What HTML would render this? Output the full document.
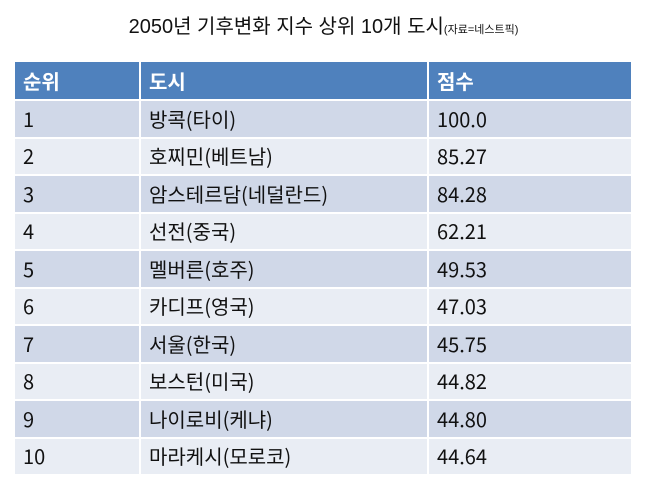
<!DOCTYPE html><html><head><meta charset="utf-8"><style>
body{margin:0;width:647px;height:490px;background:#fff;font-family:"Liberation Sans","Noto Sans CJK KR",sans-serif;overflow:hidden}
.t{position:absolute;top:10px;left:0;width:647px;text-align:center;font-size:20px;color:#111}
.t small{font-size:11px}
table{position:absolute;left:13px;top:62px;border-collapse:collapse;width:620px;table-layout:fixed}
td,th{padding:0 0 0 8px;text-align:left;font-size:20px;line-height:20px;vertical-align:middle;color:#111;border:2px solid #fff;border-top:0;font-family:"Noto Sans CJK KR",sans-serif}
th{background:#4f81bd;color:#fff;height:37px;font-weight:bold}
td{height:35.5px}
tr:nth-child(even) td{background:#d0d8e8}
tr:nth-child(odd) td{background:#e9edf4}
</style></head><body>
<div class="t">2050년 기후변화 지수 상위 10개 도시<small>(자료=네스트픽)</small></div>
<table>
<tr><th style="width:116px">순위</th><th style="width:278px">도시</th><th>점수</th></tr>
<tr><td>1</td><td>방콕(타이)</td><td>100.0</td></tr>
<tr><td>2</td><td>호찌민(베트남)</td><td>85.27</td></tr>
<tr><td>3</td><td>암스테르담(네덜란드)</td><td>84.28</td></tr>
<tr><td>4</td><td>선전(중국)</td><td>62.21</td></tr>
<tr><td>5</td><td>멜버른(호주)</td><td>49.53</td></tr>
<tr><td>6</td><td>카디프(영국)</td><td>47.03</td></tr>
<tr><td>7</td><td>서울(한국)</td><td>45.75</td></tr>
<tr><td>8</td><td>보스턴(미국)</td><td>44.82</td></tr>
<tr><td>9</td><td>나이로비(케냐)</td><td>44.80</td></tr>
<tr><td>10</td><td>마라케시(모로코)</td><td>44.64</td></tr>
</table>
</body></html>
